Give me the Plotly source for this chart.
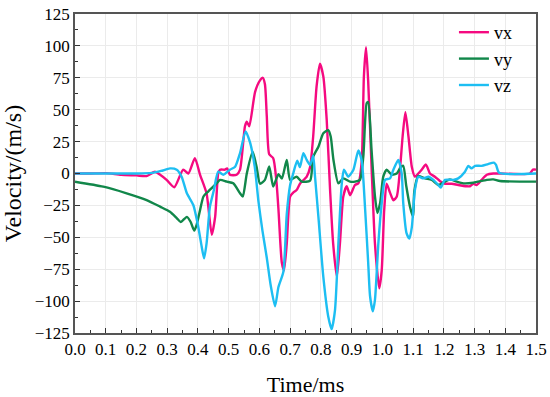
import plotly.graph_objects as go

# ---- data (time in ms, velocity in m/s) ----
t_vx = [0, 0.05, 0.1, 0.15, 0.2, 0.233, 0.26, 0.277, 0.298, 0.323, 0.352, 0.369, 0.39, 0.407, 0.428,
        0.445, 0.456, 0.466, 0.472, 0.488, 0.495, 0.504, 0.526, 0.537, 0.553, 0.559, 0.567, 0.586,
        0.602, 0.611, 0.618, 0.624, 0.632, 0.645, 0.655, 0.662, 0.673, 0.68, 0.689, 0.7, 0.71, 0.721,
        0.732, 0.754, 0.765, 0.775, 0.786, 0.797, 0.808, 0.819, 0.83, 0.84, 0.852, 0.862, 0.873,
        0.884, 0.895, 0.911, 0.922, 0.933, 0.94, 0.947, 0.954, 0.965, 0.976, 0.99, 0.998, 1.006,
        1.014, 1.025, 1.036, 1.047, 1.058, 1.066, 1.075, 1.085, 1.096, 1.106, 1.117, 1.128, 1.142,
        1.155, 1.171, 1.188, 1.204, 1.226, 1.247, 1.275, 1.285, 1.296, 1.307, 1.323, 1.34, 1.361,
        1.38, 1.48, 1.49, 1.5]
vx = [0, 0, 0.3, -1, -1.5, -2, 1.4, -1, -5, -10.8, 3, 0, 12, -1, -15.5,
      -48, -34, 0, 3, 3, 4, -1, -1, 3, 37, 40.6, 37, 64,
      73, 75, 70, 45, 15, 12, -5, -28, -70, -76, -55, -18, -15, -13,
      -8, -2.5, 5, 29, 68, 86, 76, 42, -13, -55, -81, -55, -18,
      -10, -17, -9, -7.7, 10, 76, 99, 72, 5, -55, -90, -76, -29,
      -8, -15, -21, -18, 5, 29, 48, 29, 5, -2.5, 0, 3, 7,
      0, -2.5, -6, -8, -8, -9, -10, -10, -8, -9, -5, -1, 0,
      0, 0, 3, 3]

t_vy = [0, 0.092, 0.168, 0.233, 0.277, 0.309, 0.331, 0.344, 0.364, 0.376, 0.388, 0.396, 0.407, 0.418,
        0.434, 0.461, 0.472, 0.494, 0.515, 0.537, 0.546, 0.559, 0.578, 0.591, 0.602, 0.618, 0.632,
        0.645, 0.662, 0.673, 0.689, 0.7, 0.721, 0.738, 0.765, 0.775, 0.792, 0.808, 0.824, 0.832,
        0.841, 0.857, 0.873, 0.895, 0.911, 0.927, 0.938, 0.949, 0.954, 0.965, 0.976, 0.984, 0.993,
        1.003, 1.014, 1.031, 1.047, 1.06, 1.068, 1.078, 1.09, 1.1, 1.104, 1.117, 1.139, 1.161,
        1.182, 1.204, 1.22, 1.242, 1.264, 1.296, 1.34, 1.361, 1.383, 1.5]
vy = [-6.4, -10.3, -15.5, -20.8, -26, -30, -35, -38, -34, -37.8, -44.8, -40, -28.6, -18,
      -14, -7.7, -5, -6.4, -7.7, -15.5, -18, 0, 17, 5, -8, -5, 5.5,
      -10.3, -0.5, -4, 10.6, -5, -2.5, -6.4, -5.6, 13, 21, 31.5, 34, 29,
      10.6, -7.7, -3.8, -6.4, -6.4, -5, 13, 55, 56, 18, -18, -31, -23,
      -2.5, 3, -1, 0, 5, 6, -10, -26, -34, -14, -2, -3.8, -5,
      -9, -6.4, -4.6, -6.4, -7.7, -7.2, -5, -4.6, -5.9, -6.4]

t_vz = [0, 0.1, 0.2, 0.25, 0.28, 0.309, 0.331, 0.347, 0.364, 0.385, 0.401, 0.412, 0.42, 0.428, 0.439,
        0.452, 0.466, 0.483, 0.504, 0.521, 0.537, 0.555, 0.57, 0.585, 0.597, 0.61, 0.624, 0.637,
        0.651, 0.662, 0.678, 0.689, 0.7, 0.71, 0.723, 0.732, 0.743, 0.754, 0.765, 0.775, 0.781,
        0.792, 0.808, 0.824, 0.835, 0.846, 0.857, 0.868, 0.875, 0.889, 0.906, 0.922, 0.933, 0.944,
        0.954, 0.96, 0.969, 0.976, 0.987, 0.998, 1.009, 1.025, 1.036, 1.052, 1.063, 1.068, 1.079,
        1.088, 1.096, 1.106, 1.117, 1.133, 1.15, 1.166, 1.182, 1.19, 1.204, 1.231, 1.247, 1.269,
        1.28, 1.29, 1.302, 1.323, 1.344, 1.363, 1.37, 1.38, 1.5]
vz = [0, 0, 0, 0.5, 2, 4, 3, -2.5, -15.5, -24.7, -41.7, -57, -66.5, -55, -26,
      -13, 1.4, -1, 3, 5.3, 16, 33, 24, 5, -22, -45, -66, -88,
      -104, -89, -77, -32, -9, 0, 10, 5, 16, 10.6, 6.7, 14, -2.5,
      -34, -81, -112, -122, -107, -55, -8, 3, -2.5, 3, 18, 10, -28,
      -70, -96, -108, -99, -55, -23, -5, -3.8, 3, 10.6, 0, -23, -47,
      -51, -42, -13, -2.5, -3.8, -2.5, -5, -9, -11, -5, -5, -3.8, 1.4,
      6, 4, 6, 6, 7.4, 8.5, 6.7, 0.6, 0]

x_ticks = [0.0, 0.1, 0.2, 0.3, 0.4, 0.5, 0.6, 0.7, 0.8, 0.9, 1.0, 1.1, 1.2, 1.3, 1.4, 1.5]
y_ticks = [-125, -100, -75, -50, -25, 0, 25, 50, 75, 100, 125]

series = [("vx", t_vx, vx, "#F50A80"), ("vy", t_vy, vy, "#11874A"), ("vz", t_vz, vz, "#1DBEF2")]

fig = go.Figure()
for name, t, v, c in series:
    fig.add_trace(go.Scatter(x=t, y=v, name=name, mode="lines",
                             line=dict(color=c, width=2.4, shape="spline", smoothing=0.6)))

ff = "Liberation Serif"
axis_common = dict(showline=True, linecolor="#555555", linewidth=1.5, mirror=True,
                   ticks="inside", ticklen=5, tickwidth=1, tickcolor="#333333",
                   showgrid=True, gridcolor="#ebebeb", gridwidth=1, zeroline=False,
                   automargin=False,
                   tickfont=dict(family=ff, size=17, color="black"))

fig.update_layout(
    width=550, height=397,
    margin=dict(l=75, r=14, t=14, b=64),
    paper_bgcolor="white", plot_bgcolor="white",
    font=dict(family=ff, color="black"),
    showlegend=True,
    legend=dict(x=0.822, y=1.0, xanchor="left", yanchor="top", bgcolor="rgba(0,0,0,0)",
                font=dict(family=ff, size=18), tracegroupgap=0),
    xaxis=dict(range=[0, 1.5], tickvals=x_ticks, ticktext=[f"{v:.1f}" for v in x_ticks],
               minor=dict(dtick=0.05, ticks="inside", ticklen=3, tickcolor="#333333", showgrid=False),
               title=dict(text="Time/ms", font=dict(family=ff, size=22), standoff=18),
               **axis_common),
    yaxis=dict(range=[-125, 125], tickvals=y_ticks,
               minor=dict(dtick=12.5, ticks="inside", ticklen=3, tickcolor="#333333", showgrid=False),
               title=dict(text="Velocity/(m/s)", font=dict(family=ff, size=24), standoff=10),
               **axis_common),
)

fig.write_html("out.html", config={"displayModeBar": False},
               post_script="document.body.style.margin='0';")
